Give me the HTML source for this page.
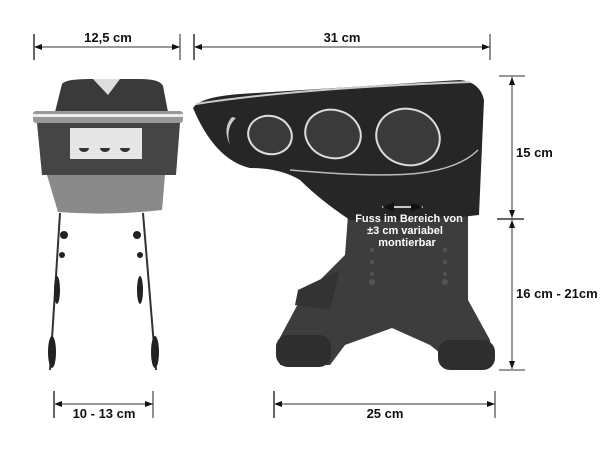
<!DOCTYPE html><html><head><style>body{margin:0;background:#fff}svg{display:block}text{font-family:"Liberation Sans",sans-serif;font-weight:bold;fill:#111}</style></head><body>
<svg width="600" height="450" viewBox="0 0 600 450">
<defs><marker id="a" markerWidth="8" markerHeight="6" refX="8" refY="3" orient="auto-start-reverse"><path d="M0,0L8,3L0,6z" fill="#111"/></marker></defs>
<g stroke="#333" stroke-width="1">
<line x1="34" y1="47" x2="180" y2="47" marker-start="url(#a)" marker-end="url(#a)"/>
<line x1="194" y1="47" x2="490" y2="47" marker-start="url(#a)" marker-end="url(#a)"/>
<line x1="512" y1="77" x2="512" y2="218" marker-start="url(#a)" marker-end="url(#a)"/>
<line x1="512" y1="220" x2="512" y2="369" marker-start="url(#a)" marker-end="url(#a)"/>
<line x1="54" y1="404" x2="153" y2="404" marker-start="url(#a)" marker-end="url(#a)"/>
<line x1="274" y1="404" x2="495" y2="404" marker-start="url(#a)" marker-end="url(#a)"/>
<line x1="499" y1="76" x2="525" y2="76"/><line x1="497" y1="219" x2="524" y2="219" stroke-width="2" stroke="#666"/><line x1="499" y1="370" x2="525" y2="370"/>
</g>
<g stroke="#666" stroke-width="2">
<line x1="34" y1="34" x2="34" y2="60"/><line x1="180" y1="34" x2="180" y2="60" stroke="#222" stroke-width="1"/><line x1="194" y1="34" x2="194" y2="60"/><line x1="490" y1="34" x2="490" y2="60" stroke="#222" stroke-width="1"/>
<line x1="54" y1="391" x2="54" y2="418"/><line x1="153" y1="391" x2="153" y2="418" stroke="#222" stroke-width="1"/><line x1="274" y1="391" x2="274" y2="418"/><line x1="495" y1="391" x2="495" y2="418" stroke="#222" stroke-width="1"/>
</g>
<text x="108" y="42" font-size="13" text-anchor="middle">12,5 cm</text>
<text x="342" y="42" font-size="13" text-anchor="middle">31 cm</text>
<text x="516" y="157" font-size="13">15 cm</text>
<text x="516" y="298" font-size="13">16 cm - 21cm</text>
<text x="104" y="418" font-size="13" text-anchor="middle">10 - 13 cm</text>
<text x="385" y="418" font-size="13" text-anchor="middle">25 cm</text>
<!-- left object -->
<path d="M55,112 L62,84 Q65,79 90,79 L140,79 Q160,79 163,86 L168,112z" fill="#3a3a3a"/>
<path d="M93,79 L120,79 L108,95z" fill="#ddd"/>
<rect x="33" y="111" width="150" height="12" rx="3" fill="#999"/>
<rect x="33" y="114" width="150" height="3" fill="#eee"/>
<path d="M37,123 L180,123 L176,175 L42,175z" fill="#454545"/>
<rect x="70" y="128" width="72" height="31" fill="#e6e6e6"/>
<g fill="#333"><path d="M79,148a5,4 0 0 0 10,0z"/><path d="M100,148a5,4 0 0 0 10,0z"/><path d="M120,148a5,4 0 0 0 10,0z"/></g>
<path d="M47,175 L165,175 L162,210 Q110,216 58,212z" fill="#8a8a8a"/>
<g stroke="#333" stroke-width="2" fill="none"><path d="M60,213 L50,370"/><path d="M143,213 L156,370"/></g>
<g fill="#222"><ellipse cx="52" cy="352" rx="4" ry="16"/><ellipse cx="155" cy="352" rx="4" ry="16"/><ellipse cx="57" cy="290" rx="3" ry="14"/><ellipse cx="140" cy="290" rx="3" ry="14"/><circle cx="64" cy="235" r="4"/><circle cx="137" cy="235" r="4"/><circle cx="62" cy="255" r="3"/><circle cx="140" cy="255" r="3"/></g>
<!-- right object stand -->
<path d="M348,215 L468,215 L468,300 L490,340 L492,360 L455,365 L430,345 L392,328 L345,345 L330,365 L280,365 L276,345 L300,300 L345,255z" fill="#3d3d3d"/>
<path d="M298,290 L340,270 L330,310 L295,305z" fill="#333"/>
<rect x="276" y="335" width="55" height="32" rx="12" fill="#2e2e2e"/>
<rect x="438" y="340" width="57" height="30" rx="12" fill="#2e2e2e"/>
<!-- right body -->
<path d="M193,108 Q200,97 240,94 L460,80 Q480,82 484,100 L479,215 Q420,222 350,220 Q320,200 300,180 Q280,168 250,168 Q215,160 193,108z" fill="#262626"/>
<path d="M196,104 Q300,88 470,82" stroke="#ccc" stroke-width="2" fill="none"/>
<path d="M290,170 Q380,178 420,173 Q460,168 478,150" stroke="#bbb" stroke-width="1.5" fill="none"/>
<g stroke="#ddd" stroke-width="2" fill="#3a3a3a"><ellipse cx="270" cy="135" rx="22" ry="19" transform="rotate(15 270 135)"/><ellipse cx="333" cy="134" rx="28" ry="24" transform="rotate(15 333 134)"/><ellipse cx="408" cy="137" rx="32" ry="28" transform="rotate(15 408 137)"/></g>
<path d="M232,117 Q222,128 230,145 Q225,128 236,118z" fill="#ccc"/>
<line x1="382" y1="207" x2="423" y2="207" stroke="#fff" stroke-width="1.5" marker-start="url(#a)" marker-end="url(#a)"/>
<g font-size="11" style="fill:#fff" text-anchor="middle"><text x="409" y="222" style="fill:#fff">Fuss im Bereich von</text><text x="405" y="234" style="fill:#fff">±3 cm variabel</text><text x="407" y="246" style="fill:#fff">montierbar</text></g>
<g fill="#555"><circle cx="372" cy="250" r="2"/><circle cx="372" cy="262" r="2"/><circle cx="372" cy="274" r="2"/><circle cx="372" cy="282" r="3"/><circle cx="445" cy="250" r="2"/><circle cx="445" cy="262" r="2"/><circle cx="445" cy="274" r="2"/><circle cx="445" cy="282" r="3"/></g>
</svg></body></html>
